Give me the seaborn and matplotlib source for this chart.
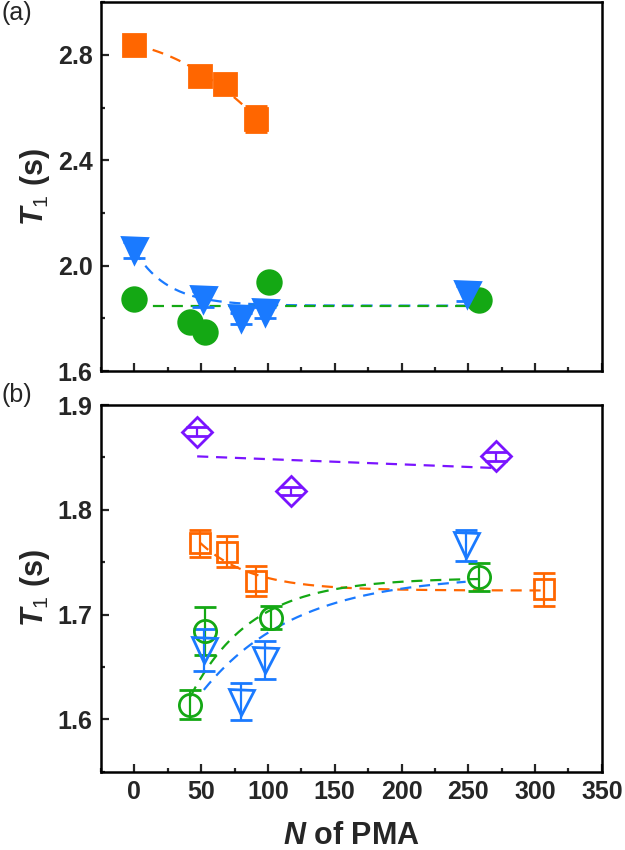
import numpy as np
import pandas as pd
import matplotlib
matplotlib.use("Agg")
import matplotlib.pyplot as plt
import seaborn as sns
from matplotlib.ticker import MultipleLocator

sns.set_theme(style="ticks")
plt.rcParams['font.family'] = ['Liberation Sans', 'DejaVu Sans']
plt.rcParams['mathtext.fontset'] = 'custom'
plt.rcParams['mathtext.rm'] = 'Liberation Sans'
plt.rcParams['mathtext.bf'] = 'Liberation Sans:bold'
plt.rcParams['mathtext.it'] = 'Liberation Sans:italic'
plt.rcParams['mathtext.bfit'] = 'Liberation Sans:italic:bold'

ORANGE = '#FF6600'
BLUE = '#1A7AFF'
GREEN = '#14A814'
PURPLE = '#7A14FF'

# panel (a): filled symbols
a_sq_x = [0, 49, 68, 91]
a_sq_y = [2.839, 2.718, 2.688, 2.556]
a_sq_e = [0.03, 0.03, 0.03, 0.05]

a_tri_x = [0, 51, 80, 98, 249]
a_tri_y = [2.058, 1.872, 1.800, 1.823, 1.894]
a_tri_e = [0.03, 0.03, 0.02, 0.02, 0.03]

a_cir_x = [0, 42, 53, 101, 258]
a_cir_y = [1.875, 1.786, 1.748, 1.937, 1.868]
a_cir_e = [0.012, 0.012, 0.012, 0.012, 0.012]

# panel (b): open symbols
b_dia_x = [47, 117, 271]
b_dia_y = [1.8747, 1.818, 1.851]
b_dia_e = [0.004, 0.004, 0.004]

b_sq_x = [49, 69, 91, 307]
b_sq_y = [1.768, 1.760, 1.732, 1.724]
b_sq_e = [0.013, 0.015, 0.014, 0.016]

b_cir_x = [42, 53, 102, 258]
b_cir_y = [1.614, 1.684, 1.697, 1.736]
b_cir_e = [0.014, 0.023, 0.011, 0.013]

b_tri_x = [52, 80, 98, 248]
b_tri_y = [1.666, 1.617, 1.657, 1.766]
b_tri_e = [0.020, 0.018, 0.018, 0.015]

# fit parameters: plateau, amplitude, x0, decay length
a_tri_fit = (1.848, 0.21, 0, 25)
a_cir_fit = 1.848
b_sq_fit = (1.723, 0.047, 48, 38)
b_cir_fit = (1.735, -0.113, 42, 46)
b_tri_fit = (1.738, -0.113, 50, 70)
b_dia_fit = ((47, 1.851), (268, 1.840))


def expo(x, p):
    plateau, amp, x0, t = p
    return plateau + amp * np.exp(-(x - x0) / t)


def fitline(ax, x, y, color):
    df = pd.DataFrame({'x': x, 'y': y})
    sns.lineplot(data=df, x='x', y='y', ax=ax, color=color, lw=1.6,
                 dashes=False, linestyle=(0, (5, 3.5)), zorder=2)


def points(ax, x, y, e, marker, color, filled, ms):
    ax.errorbar(x, y, yerr=e, fmt=marker, ms=ms, color=color,
                mfc=color if filled else 'none', mec=color, mew=2,
                ecolor=color, elinewidth=1.6, capsize=8, capthick=1.6,
                zorder=3)


fig = plt.figure(figsize=(6.25, 8.5), dpi=100)
ax1 = fig.add_axes([0.1616, 0.5635, 0.8014, 0.4340])
ax2 = fig.add_axes([0.1616, 0.0920, 0.8014, 0.4315])

# panel (a)
xq = np.linspace(min(a_sq_x), max(a_sq_x), 100)
fitline(ax1, xq, np.polyval(np.polyfit(a_sq_x, a_sq_y, 2), xq), ORANGE)
xt = np.linspace(0, max(a_tri_x), 200)
fitline(ax1, xt, expo(xt, a_tri_fit), BLUE)
xc = np.linspace(0, max(a_cir_x), 50)
fitline(ax1, xc, np.full_like(xc, a_cir_fit), GREEN)

points(ax1, a_sq_x, a_sq_y, a_sq_e, 's', ORANGE, True, 16)
points(ax1, a_cir_x, a_cir_y, a_cir_e, 'o', GREEN, True, 17)
points(ax1, a_tri_x, a_tri_y, a_tri_e, 'v', BLUE, True, 18)

ax1.set_ylim(1.6, 3.0)
ax1.set_yticks([1.6, 2.0, 2.4, 2.8])
ax1.yaxis.set_minor_locator(MultipleLocator(0.2))
ax1.tick_params(axis='x', labelbottom=False)
ax1.set_xlabel('')

# panel (b)
xs = np.linspace(b_sq_x[0], b_sq_x[-1], 200)
fitline(ax2, xs, expo(xs, b_sq_fit), ORANGE)
xg = np.linspace(b_cir_x[0], b_cir_x[-1], 200)
fitline(ax2, xg, expo(xg, b_cir_fit), GREEN)
xb = np.linspace(b_tri_x[0], b_tri_x[-1], 200)
fitline(ax2, xb, expo(xb, b_tri_fit), BLUE)
(dx0, dy0), (dx1, dy1) = b_dia_fit
fitline(ax2, [dx0, dx1], [dy0, dy1], PURPLE)

points(ax2, b_dia_x, b_dia_y, b_dia_e, 'D', PURPLE, False, 15)
points(ax2, b_sq_x, b_sq_y, b_sq_e, 's', ORANGE, False, 15)
points(ax2, b_cir_x, b_cir_y, b_cir_e, 'o', GREEN, False, 16)
points(ax2, b_tri_x, b_tri_y, b_tri_e, 'v', BLUE, False, 18)

ax2.set_ylim(1.55, 1.9)
ax2.set_yticks([1.6, 1.7, 1.8, 1.9])
ax2.yaxis.set_minor_locator(MultipleLocator(0.05))
ax2.set_xlabel(r'$\mathbfit{N}$ of PMA', fontsize=22, fontweight='bold', labelpad=12)

for ax, lab in [(ax1, '(a)'), (ax2, '(b)')]:
    ax.set_xlim(-25, 350)
    ax.set_xticks(range(0, 351, 50))
    ax.xaxis.set_minor_locator(MultipleLocator(25))
    ax.set_ylabel(r'$\mathbfit{T}_\mathrm{1}$ (s)', fontsize=22, fontweight='bold', labelpad=4)
    ax.tick_params(which='both', direction='in', top=False, right=False, width=1.6)
    ax.tick_params(which='major', length=6, labelsize=18, pad=6)
    ax.tick_params(which='minor', length=3)
    for t in ax.get_xticklabels() + ax.get_yticklabels():
        t.set_fontweight('bold')
    for s in ax.spines.values():
        s.set_visible(True)
        s.set_linewidth(1.8)
        s.set_color('black')
    ax.grid(False)

fig.text(0.003, 0.999, '(a)', fontsize=18, ha='left', va='top')
fig.text(0.003, 0.549, '(b)', fontsize=18, ha='left', va='top')

fig.savefig('out.png', dpi=100)
